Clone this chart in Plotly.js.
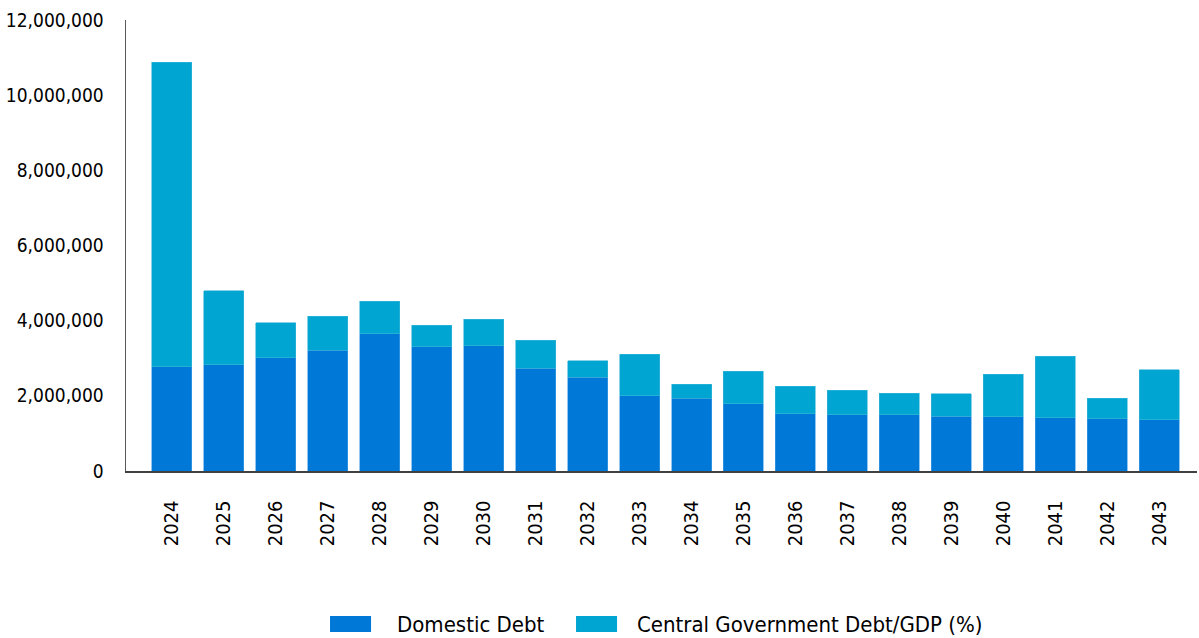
<!DOCTYPE html>
<html>
<head>
<meta charset="utf-8">
<script src="https://cdn.plot.ly/plotly-3.0.1.min.js"></script>
<style>html,body{margin:0;padding:0;background:#fff;}#chart{width:1199px;height:638px;}</style>
</head>
<body>
<div id="chart"></div>
<script>
const years = ["2024","2025","2026","2027","2028","2029","2030","2031","2032","2033","2034","2035","2036","2037","2038","2039","2040","2041","2042","2043"];
const domesticDebt = [2770000,2830000,3010000,3210000,3650000,3310000,3330000,2730000,2490000,2000000,1940000,1790000,1520000,1500000,1500000,1460000,1440000,1420000,1390000,1360000];
const centralGovDebtGdp = [8110000,1960000,930000,910000,870000,570000,710000,750000,440000,1110000,370000,870000,740000,650000,570000,590000,1140000,1640000,550000,1330000];
const yTickVals = [0,2000000,4000000,6000000,8000000,10000000,12000000];
const seriesNames = ["Domestic Debt","Central Government Debt/GDP (%)"];
const seriesColors = ["#0078D7","#00A5D1"];

const FONT = "Tahoma, 'DejaVu Sans Condensed', 'DejaVu Sans', sans-serif";

const traces = [
  {type:"bar", name:seriesNames[0], x:years, y:domesticDebt,
   marker:{color:seriesColors[0], line:{color:"#4aa0e6", width:0.6}}, width:0.77},
  {type:"bar", name:seriesNames[1], x:years, y:centralGovDebtGdp,
   marker:{color:seriesColors[1], line:{color:"#3bb5d8", width:0.6}}, width:0.77}
];

// custom legend (paper coordinates) to match the large swatches
const legendItems = [
  {x0:0.1905, x1:0.2288, tx:0.2512},
  {x0:0.4202, x1:0.4585, tx:0.4753}
];
const shapes = legendItems.map((it,i)=>({type:"rect", xref:"paper", yref:"paper",
  x0:it.x0, x1:it.x1, y0:-0.3570, y1:-0.3215, fillcolor:seriesColors[i], line:{width:0}}));
const annotations = legendItems.map((it,i)=>({xref:"paper", yref:"paper", x:it.tx, y:-0.3395,
  xanchor:"left", yanchor:"middle", showarrow:false, text:seriesNames[i],
  font:{family:FONT, size:22, color:"#000"}}));

const layout = {
  width:1199, height:638,
  barmode:"stack",
  paper_bgcolor:"#fff", plot_bgcolor:"#fff",
  margin:{l:126, r:2, t:20, b:167, pad:0},
  font:{family:FONT, size:19, color:"#000"},
  showlegend:false,
  shapes:shapes,
  annotations:annotations,
  xaxis:{type:"category", range:[-0.885,19.73], showline:true, linecolor:"#404040", linewidth:1.5,
         showgrid:false, zeroline:false, ticks:"", tickangle:-90, ticklabelstandoff:20, automargin:false,
         tickfont:{family:FONT, size:20, color:"#000"}},
  yaxis:{range:[0,12000000], tickvals:yTickVals, tickformat:",d", showline:true, linecolor:"#595959", linewidth:1.5,
         showgrid:false, zeroline:false, ticks:"", ticklabelstandoff:17, automargin:false,
         tickfont:{family:FONT, size:19, color:"#000"}}
};

Plotly.newPlot("chart", traces, layout, {displayModeBar:false, staticPlot:true});
</script>
</body>
</html>
